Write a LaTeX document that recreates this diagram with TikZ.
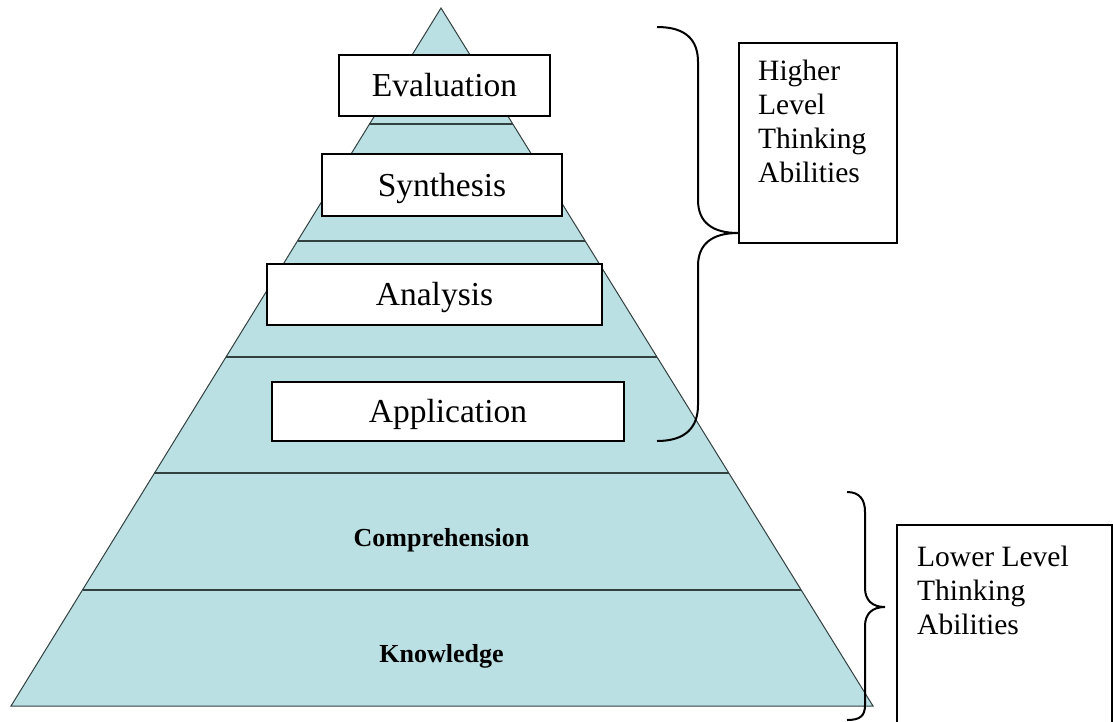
\documentclass[tikz,border=0pt]{standalone}
\usepackage{fontspec}
\setmainfont{Liberation Serif}
\usetikzlibrary{calc}
\definecolor{pyrfill}{RGB}{187,224,227}
\definecolor{pyrline}{RGB}{50,64,64}
\begin{document}
\begin{tikzpicture}[x=1pt,y=-1pt,
  layerbox/.style={draw=black, line width=2pt, fill=white, inner sep=0pt, font=\fontsize{33.5}{40}\selectfont, text height=22pt, text depth=0pt},
  sidebox/.style={draw=black, line width=1.8pt, fill=white, inner sep=0pt, anchor=north west},
  sidetext/.style={inner sep=0pt, anchor=north west, align=left, font=\fontsize{29.5}{34}\selectfont},
  layerlabel/.style={font=\fontsize{26}{30}\selectfont\bfseries, anchor=base},
  bracepath/.style={draw=black, line width=2pt},
  divider/.style={draw=pyrline, line width=2pt}]
\useasboundingbox (0,0) rectangle (1113,721);
\coordinate (apex) at (441,8);
\coordinate (bl) at (11,706);
\coordinate (br) at (873,706);
\fill[pyrfill] (apex) -- (bl) -- (br) -- cycle;
\foreach \k in {1,...,5} \draw[divider] ($(apex)!\k/6!(bl)$) -- ($(apex)!\k/6!(br)$);
\draw[pyrline, line width=1pt] (apex) -- (bl) -- (br) -- cycle;

\node[layerbox, minimum width=211pt, minimum height=61pt] (eval) at (444.5,85.5) {Evaluation};
\node[layerbox, minimum width=240pt, minimum height=62pt] (synth) at (442,185) {Synthesis};
\node[layerbox, minimum width=335pt, minimum height=61pt] (anal) at (434.5,294.5) {Analysis};
\node[layerbox, minimum width=352pt, minimum height=59pt] (appl) at (448,411.5) {Application};

\node[layerlabel] (comp) at (441.5,546) {Comprehension};
\node[layerlabel] (know) at (441.5,662) {Knowledge};

\node[sidebox, minimum width=158pt, minimum height=200pt] (hibox) at (738,42) {};
\node[sidetext] (hitext) at (758,60) {Higher\\Level\\Thinking\\Abilities};
\node[sidebox, minimum width=215pt, minimum height=230pt] (lobox) at (896,524) {};
\node[sidetext] (lotext) at (917,546) {Lower Level\\Thinking\\Abilities};

\coordinate (hitop) at (657,27);
\coordinate (hitip) at (738,233);
\coordinate (hibot) at (657,441);
\draw[bracepath] (hitop) .. controls (686,27) and (698,40) .. (698,62) -- (698,200)
  .. controls (698,222) and (712,233) .. (hitip)
  .. controls (712,233) and (698,244) .. (698,266) -- (698,405)
  .. controls (698,427) and (686,441) .. (hibot);

\coordinate (lotop) at (847,492);
\coordinate (lotip) at (885,607);
\coordinate (lobot) at (847,720);
\draw[bracepath] (lotop) .. controls (860,492) and (865,500) .. (865,512) -- (865,588)
  .. controls (865,600) and (872,607) .. (lotip)
  .. controls (872,607) and (865,614) .. (865,626) -- (865,705)
  .. controls (865,716) and (860,720) .. (lobot);
\end{tikzpicture}
\end{document}
